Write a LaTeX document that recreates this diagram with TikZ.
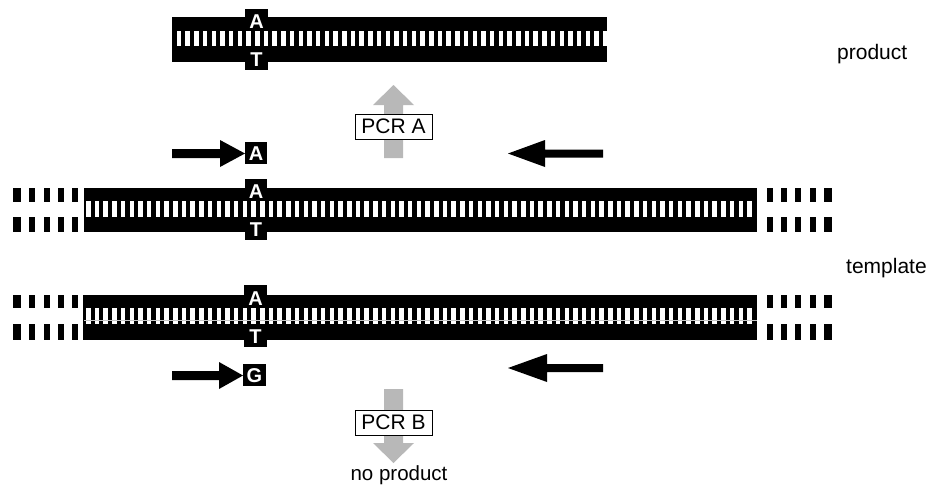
\documentclass[tikz,border=0pt]{standalone}
\usepackage{fontspec}
\setmainfont{Liberation Sans}
\definecolor{pcrgray}{gray}{0.72}
\tikzset{
  strand/.style={fill=black},
  rung/.style={fill=white},
  basebox/.style={fill=black},
  baseletter/.style={text=white, inner sep=0pt, anchor=base,
    font=\fontsize{20}{20}\selectfont\bfseries},
  tag/.style={inner sep=0pt, font=\fontsize{21}{25}\selectfont},
  pcrbox/.style={draw=black, line width=0.8pt, fill=white, inner sep=0pt,
    minimum width=77pt, minimum height=25pt, font=\fontsize{21}{25}\selectfont},
  primer/.style={fill=black},
  pcrarrow/.style={fill=pcrgray},
  endpiece/.style={fill=black},
  midline/.style={draw=black!22, line width=0.5pt}
}
\begin{document}
\begin{tikzpicture}[x=1pt,y=-1pt]
\useasboundingbox (0,0) rectangle (928,485);

% ---------- product duplex ----------
\fill[strand] (172,17) rectangle (607,62);
\fill[basebox] (245,9) rectangle (268,70);
\foreach \i in {0,...,49}
  \fill[rung] ({176.7+8.7*\i},31) rectangle ({176.7+8.7*\i+4.5},46);
\node[baseletter] (pA) at (256.5,28) {A};
\node[baseletter] (pT) at (256.5,66) {T};
\node[tag, anchor=base west] (prodlabel) at (837,59) {product};

% ---------- PCR A ----------
\fill[pcrarrow] (384,158) -- (384,105) -- (373,105) -- (393.5,85)
  -- (414,105) -- (403,105) -- (403,158) -- cycle;
\node[pcrbox] (pcra) at (393.5,126.5) {PCR A};

% ---------- primers on upper template ----------
\fill[primer] (172,149) -- (220,149) -- (220,140) -- (245,153.5)
  -- (220,167) -- (220,158) -- (172,158) -- cycle;
\fill[basebox] (245,142) rectangle (267,164);
\node[baseletter] (prA) at (256,160.5) {A};
\fill[primer] (603,149.5) -- (545,149.5) -- (545,140) -- (508,153.5)
  -- (545,167) -- (545,157.5) -- (603,157.5) -- cycle;

% ---------- upper template ----------
\fill[strand] (84,188) rectangle (757,232);
\fill[basebox] (244.5,179) rectangle (267,240);
\foreach \i in {0,...,76}
  \fill[rung] ({86+8.7*\i},201) rectangle ({86+8.7*\i+4.5},217);
\node[baseletter] (t1A) at (256,198) {A};
\node[baseletter] (t1T) at (256,236) {T};
\foreach \a/\b in {12.5/21,29/35,43.5/49.5,58/64,72/78,
                   766.5/772.5,781/787,795/801,809.5/815.5,824/832} {
  \fill[endpiece] (\a,188) rectangle (\b,202);
  \fill[endpiece] (\a,217) rectangle (\b,232);
}

\node[tag, anchor=base west] (templabel) at (846,273) {template};

% ---------- lower template ----------
\fill[strand] (83,295) rectangle (757,340);
\fill[basebox] (244,285) rectangle (267,347);
\foreach \i in {0,...,76}
  \fill[rung] ({86+8.7*\i},308) rectangle ({86+8.7*\i+4.5},324);
\draw[midline] (84,320) -- (757,320);
\node[baseletter] (t2A) at (255.5,305) {A};
\node[baseletter] (t2T) at (255.5,343) {T};
\foreach \a/\b in {12.5/21,29/35,43.5/49.5,58/64,72/78,
                   766.5/772.5,781/787,795/801,809.5/815.5,824/832} {
  \fill[endpiece] (\a,295) rectangle (\b,308);
  \fill[endpiece] (\a,324) rectangle (\b,340);
}

% ---------- primers on lower template ----------
\fill[primer] (172,371) -- (219,371) -- (219,362) -- (243,375.5)
  -- (219,389) -- (219,380) -- (172,380) -- cycle;
\fill[basebox] (243,363.5) rectangle (266,386);
\node[baseletter] (prG) at (254.5,382) {G};
\fill[primer] (603,364) -- (547,364) -- (547,354) -- (508,368)
  -- (547,382) -- (547,372) -- (603,372) -- cycle;

% ---------- PCR B ----------
\fill[pcrarrow] (384,389) -- (384,443) -- (373,443) -- (393.5,463)
  -- (414,443) -- (403,443) -- (403,389) -- cycle;
\node[pcrbox] (pcrb) at (393.5,422.5) {PCR B};
\node[tag, anchor=base, font=\fontsize{20.5}{24}\selectfont] (noprod) at (399,480.5) {no product};
\end{tikzpicture}
\end{document}
